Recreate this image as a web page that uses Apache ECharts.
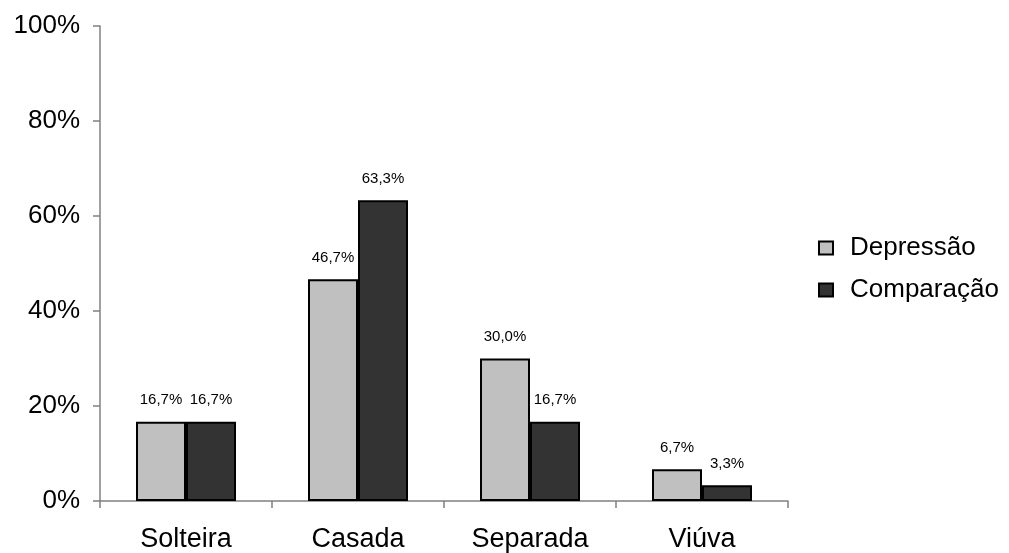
<!DOCTYPE html>
<html>
<head>
<meta charset="utf-8">
<script src="https://cdn.jsdelivr.net/npm/echarts@6/dist/echarts.min.js"></script>
<style>
  html, body { margin: 0; padding: 0; background: #fff; }
  #chart { width: 1009px; height: 553px; }
</style>
</head>
<body>
<div id="chart"></div>
<script>
// Estado civil: percentagem por grupo
const categories = ['Solteira', 'Casada', 'Separada', 'Viúva'];
const depressao = [16.7, 46.7, 30.0, 6.7];
const comparacao = [16.7, 63.3, 16.7, 3.3];
const seriesNames = ['Depressão', 'Comparação'];

const FONT = '"Liberation Sans", Arial, sans-serif';
const pct = v => v.toFixed(1).replace('.', ',') + '%';

const labelStyle = {
  show: true,
  position: 'top',
  distance: 14,
  color: '#000',
  fontSize: 15,
  fontFamily: FONT,
  formatter: p => pct(p.value)
};

const chart = echarts.init(document.getElementById('chart'), null, { renderer: 'canvas' });
chart.setOption({
  animation: false,
  backgroundColor: '#fff',
  textStyle: { fontFamily: FONT },
  grid: { left: 100, right: 221, top: 26, bottom: 52, containLabel: false },
  legend: {
    orient: 'vertical',
    left: 818,
    top: 235,
    padding: 0,
    itemWidth: 14,
    itemHeight: 13,
    itemGap: 16,
    icon: 'rect',
    textStyle: { fontSize: 26, color: '#000', fontFamily: FONT, padding: [0, 0, 0, 12] },
    data: seriesNames
  },
  xAxis: {
    type: 'category',
    data: categories,
    axisLine: { lineStyle: { color: '#808080', width: 1.5 } },
    axisTick: { show: true, length: 7, lineStyle: { color: '#808080', width: 1.5 } },
    axisLabel: { fontSize: 27, color: '#000', margin: 25, fontFamily: FONT }
  },
  yAxis: {
    type: 'value',
    min: 0,
    max: 100,
    interval: 20,
    splitLine: { show: false },
    axisLine: { show: true, lineStyle: { color: '#808080', width: 1.5 } },
    axisTick: { show: true, length: 7, lineStyle: { color: '#808080', width: 1.5 } },
    axisLabel: { fontSize: 26, color: '#000', margin: 20, fontFamily: FONT, formatter: '{value}%' }
  },
  series: [
    {
      name: seriesNames[0],
      type: 'bar',
      data: depressao,
      barWidth: 50,
      barGap: '0%',
      itemStyle: { color: '#C0C0C0', borderColor: '#000', borderWidth: 2 },
      label: labelStyle
    },
    {
      name: seriesNames[1],
      type: 'bar',
      data: comparacao,
      barWidth: 50,
      barGap: '0%',
      itemStyle: { color: '#333333', borderColor: '#000', borderWidth: 2 },
      label: labelStyle
    }
  ]
});
</script>
</body>
</html>
